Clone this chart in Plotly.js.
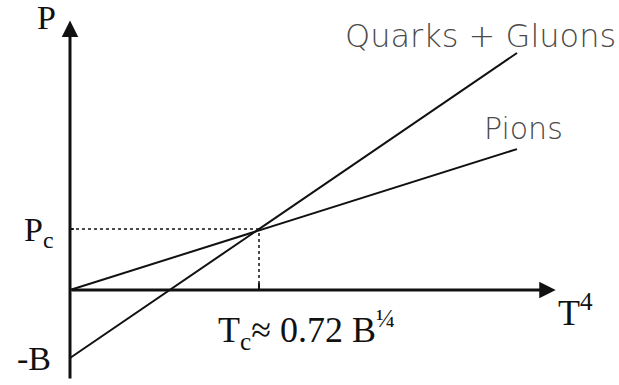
<!DOCTYPE html>
<html>
<head>
<meta charset="utf-8">
<script src="https://cdn.plot.ly/plotly-3.0.1.min.js"></script>
<style>
  html, body { margin: 0; padding: 0; background: #fff; }
  #plot { width: 619px; height: 385px; }
</style>
</head>
<body>
<div id="plot"></div>
<script>
// schematic P vs T^4, units chosen so that Tc^4 = 1 and Pc = 1
const lineNames = ['Quarks + Gluons', 'Pions'];
const qgT4 = [0, 2.365];
const qgP = [-1.115, 3.885];
const pionT4 = [0, 2.365];
const pionP = [0, 2.31];
const Tc4 = 1;
const Pc = 1;
const B = 1.115;

const serif = 'Liberation Serif, Times New Roman, serif';
const thin = {family: 'DejaVu Sans ExtraLight, DejaVu Sans Light, DejaVu Sans, sans-serif', size: 30, color: '#4a4a4a', weight: 200};
const thinBig = Object.assign({}, thin, {size: 32});

const data = [
  {x: qgT4, y: qgP, mode: 'lines', line: {color: '#111', width: 2}, name: lineNames[0], hoverinfo: 'skip'},
  {x: pionT4, y: pionP, mode: 'lines', line: {color: '#111', width: 2}, name: lineNames[1], hoverinfo: 'skip'},
  // dotted guides to the crossing point
  {x: [0, Tc4], y: [Pc, Pc], mode: 'lines', line: {color: '#111', width: 1.5, dash: 'dot'}, hoverinfo: 'skip'},
  {x: [Tc4, Tc4], y: [0, Pc], mode: 'lines', line: {color: '#111', width: 1.5, dash: 'dot'}, hoverinfo: 'skip'},
  // little ticks on the axes
  {x: [Tc4, Tc4], y: [0, 0.11], mode: 'lines', line: {color: '#111', width: 2}, hoverinfo: 'skip'},
  {x: [0, 0.02], y: [Pc, Pc], mode: 'lines', line: {color: '#111', width: 2}, hoverinfo: 'skip'}
];

function arrow(x, y, ax, ay) {
  return {x: x, y: y, ax: ax, ay: ay, xref: 'x', yref: 'y', axref: 'x', ayref: 'y',
    text: '', showarrow: true, arrowhead: 2, arrowsize: 1.1, arrowwidth: 3, arrowcolor: '#111'};
}
function label(text, x, y, font, xanchor, yanchor) {
  return {x: x, y: y, xref: 'x', yref: 'y', text: text, showarrow: false,
    font: font, xanchor: xanchor || 'center', yanchor: yanchor || 'middle'};
}
const big = {family: serif, size: 34, color: '#111'};
const bigger = {family: serif, size: 36, color: '#111'};

const layout = {
  width: 619, height: 385,
  margin: {l: 0, r: 0, t: 0, b: 0},
  paper_bgcolor: '#fff', plot_bgcolor: '#fff',
  showlegend: false,
  xaxis: {range: [-0.3704, 2.9048], visible: false, fixedrange: true},
  yaxis: {range: [-1.5574, 4.7541], visible: false, fixedrange: true},
  annotations: [
    arrow(0, 4.42, 0, -1.475),
    arrow(2.57, 0, 0, 0),
    label('P', -0.122, 4.46, big),
    label('P<sub>c</sub>', -0.08, Pc - 0.05, big, 'right'),
    label('-B', -0.09, -B, big, 'right'),
    label('T<sup>4</sup>', 2.57, -0.33, bigger, 'left'),
    label('T<sub>c</sub>\u2248 0.72 B<sup>\u00bc</sup>', 1.25, -0.66, bigger),
    label(lineNames[0], 2.17, 4.17, thinBig),
    label(lineNames[1], 2.4, 2.65, thin)
  ]
};

Plotly.newPlot('plot', data, layout, {staticPlot: true, displayModeBar: false});
</script>
</body>
</html>
